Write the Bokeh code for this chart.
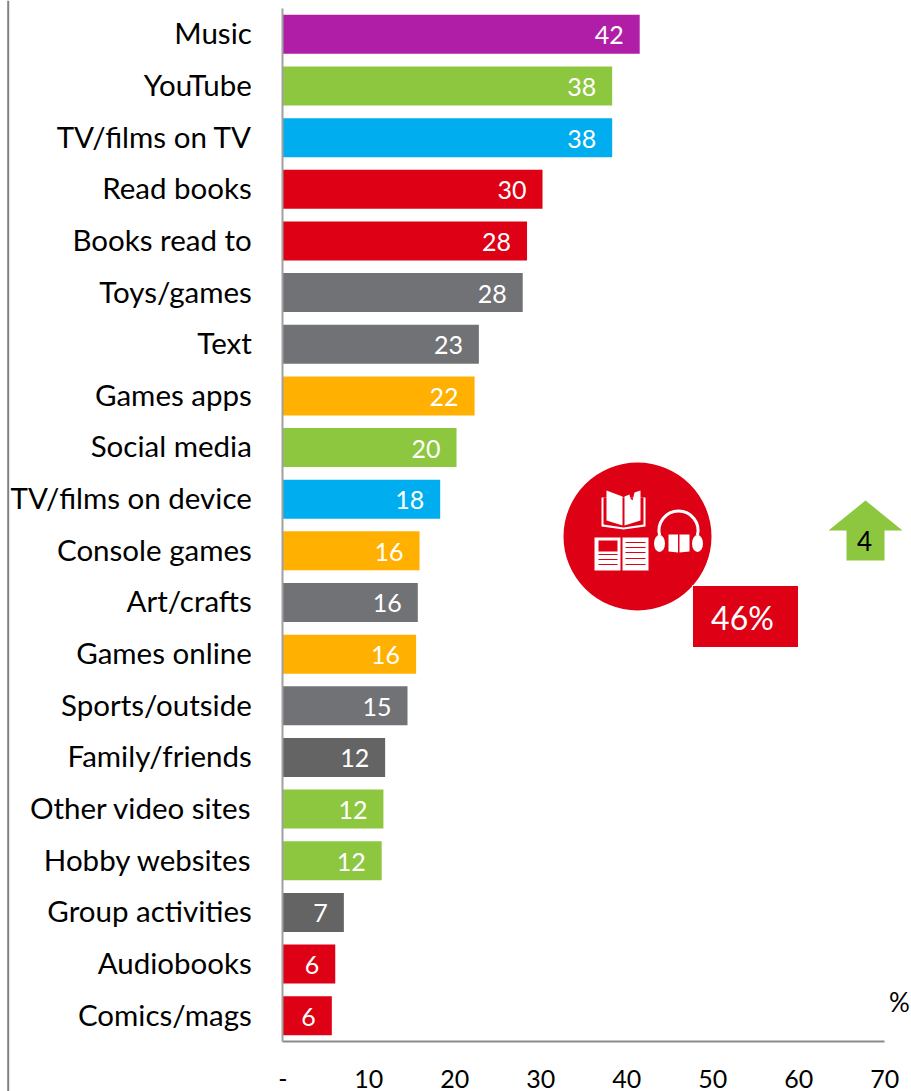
from bokeh.plotting import figure
from bokeh.models import Range1d, ColumnDataSource, FixedTicker
from bokeh.core.properties import value
from bokeh.embed import file_html
from bokeh.resources import INLINE

categories = ["Music", "YouTube", "TV/films on TV", "Read books", "Books read to", "Toys/games", "Text",
              "Games apps", "Social media", "TV/films on device", "Console games", "Art/crafts", "Games online",
              "Sports/outside", "Family/friends", "Other video sites", "Hobby websites", "Group activities",
              "Audiobooks", "Comics/mags"]
values = [41.5, 38.3, 38.3, 30.2, 28.4, 27.9, 22.8, 22.3, 20.2, 18.3, 15.9, 15.7, 15.5, 14.5, 11.9, 11.7, 11.5, 7.1, 6.1, 5.7]
labels = ["42", "38", "38", "30", "28", "28", "23", "22", "20", "18", "16", "16", "16", "15", "12", "12", "12", "7", "6", "6"]
PURPLE, GREEN, BLUE, RED, GREY, DGREY, ORANGE = "#B01EA8", "#8DC63F", "#00AEEF", "#DE0014", "#717276", "#646464", "#FFB000"
colors = [PURPLE, GREEN, BLUE, RED, RED, GREY, GREY, ORANGE, GREEN, BLUE, ORANGE, GREY, ORANGE, GREY, DGREY,
          GREEN, GREEN, DGREY, RED, RED]
tick_values = [0, 10, 20, 30, 40, 50, 60, 70]
FONT = "Lato"

rows = list(range(1, len(categories) + 1))
PX_X = 8.6      # pixels per percentage point
PX_Y = 51.65    # pixels per row

p = figure(width=911, height=1091, output_backend="svg", toolbar_location=None,
           x_range=Range1d(-282.3 / PX_X, 628.7 / PX_X),
           y_range=Range1d(len(categories) + 0.5 + 50 / PX_Y, 0.5 - 8 / PX_Y),
           frame_width=911, frame_height=1091, min_border=0, outline_line_color=None)
p.grid.visible = False
p.background_fill_color = None
p.border_fill_color = None

# overlay ranges whose units are page pixels, for the decoration
p.extra_x_ranges["px"] = Range1d(0, 911)
p.extra_y_ranges["px"] = Range1d(1091, 0)
over = dict(x_range_name="px", y_range_name="px")

src = ColumnDataSource(dict(row=rows, val=values, lab=labels, col=colors))
p.hbar(y="row", left=0, right="val", height=39 / PX_Y, fill_color="col", line_color=None, source=src)
p.text(x="val", y="row", text="lab", text_color="#FFFFFF", text_font=value(FONT), text_font_size="25px",
       text_align="right", text_baseline="middle", x_offset=-16, y_offset=1, source=src)

ax = p.xaxis[0]
ax.fixed_location = len(categories) + 0.5
ax.ticker = FixedTicker(ticks=tick_values)
ax.bounds = (0, 70)
ax.major_label_overrides = {0: "-"}
ax.axis_line_color = "#8A8A8A"
ax.axis_line_width = 2
ax.major_tick_line_color = None
ax.minor_tick_line_color = None
ax.major_label_standoff = 22
ax.major_label_text_font = FONT
ax.major_label_text_font_size = "25px"
ax.major_label_text_color = "#000000"

label_rows = [r - 0.03 for r in rows]
ay = p.yaxis[0]
ay.fixed_location = 0
ay.ticker = FixedTicker(ticks=label_rows)
ay.bounds = (0.5, len(categories) + 0.5)
ay.major_label_overrides = dict(zip(label_rows, categories))
ay.axis_line_color = "#A0A0A0"
ay.axis_line_width = 2
ay.major_tick_line_color = None
ay.minor_tick_line_color = None
ay.major_label_standoff = 25
ay.major_label_text_font = FONT
ay.major_label_text_font_size = "29.5px"
ay.major_label_text_color = "#000000"

# far-left rule
p.line([7.7, 7.7], [0, 1091], line_color="#808087", line_width=2, **over)

# red circle and 46% tag
W = "#FFFFFF"
p.circle(x=[637], y=[536], radius=74, fill_color=RED, line_color=None, **over)
p.quad(left=[692], right=[798], top=[585], bottom=[647], fill_color=RED, line_color=W, line_width=1, **over)
p.text(x=[742], y=[617], text=["46%"], text_color=W, text_font=value(FONT), text_font_size="32px",
       text_align="center", text_baseline="middle", **over)

# open book (top)
p.patch(x=[601, 601, 623, 645, 645], y=[497, 526, 529, 526, 497], fill_color=W, line_color=None, **over)
p.patch(x=[603, 603, 623, 643, 643], y=[497, 524, 527, 524, 497], fill_color=RED, line_color=None, **over)
p.patches(xs=[[606, 606, 622, 622], [624, 624, 640, 640, 634, 632, 630, 629]],
          ys=[[490, 520, 525, 496], [496, 525, 520, 490, 492, 500, 498, 494]],
          fill_color=W, line_color=None, **over)
# open book (bottom)
p.patches(xs=[[594, 594, 620, 620], [622, 622, 648, 648]],
          ys=[[537, 570, 570, 537], [537, 570, 570, 537]], fill_color=W, line_color=None, **over)
p.quad(left=[598], right=[617], top=[540], bottom=[551], fill_color=RED, line_color=None, **over)
p.multi_line(xs=[[598, 617], [598, 617], [598, 617], [625, 645], [625, 645], [625, 645], [625, 645], [625, 645]],
             ys=[[554, 554], [559, 559], [564, 564], [542, 542], [547, 547], [552, 552], [558, 558], [564, 564]],
             line_color=RED, line_width=1, **over)
# headphones
p.arc(x=[678], y=[530], radius=19.5, start_angle=-0.25, end_angle=3.39, line_color=W, line_width=3, **over)
p.ellipse(x=[659, 697], y=[543, 543], width=11, height=17, fill_color=W, line_color=None, **over)
p.patches(xs=[[668, 668, 677.5, 677.5], [679, 679, 689, 689]], ys=[[534, 551, 552, 534], [534, 552, 551, 534]],
          fill_color=W, line_color=None, **over)

# green arrow
p.patch(x=[865, 902, 884, 884, 846, 846, 828], y=[500, 530, 530, 560, 560, 530, 530], fill_color=GREEN,
        line_color=None, **over)
p.text(x=[864], y=[540], text=["4"], text_color="#000000", text_font=value(FONT), text_font_size="26px",
       text_align="center", text_baseline="middle", **over)
p.text(x=[899], y=[1001], text=["%"], text_color="#000000", text_font=value(FONT), text_font_size="26px",
       text_align="center", text_baseline="middle", **over)

open("out.html", "w").write(file_html(p, INLINE))
